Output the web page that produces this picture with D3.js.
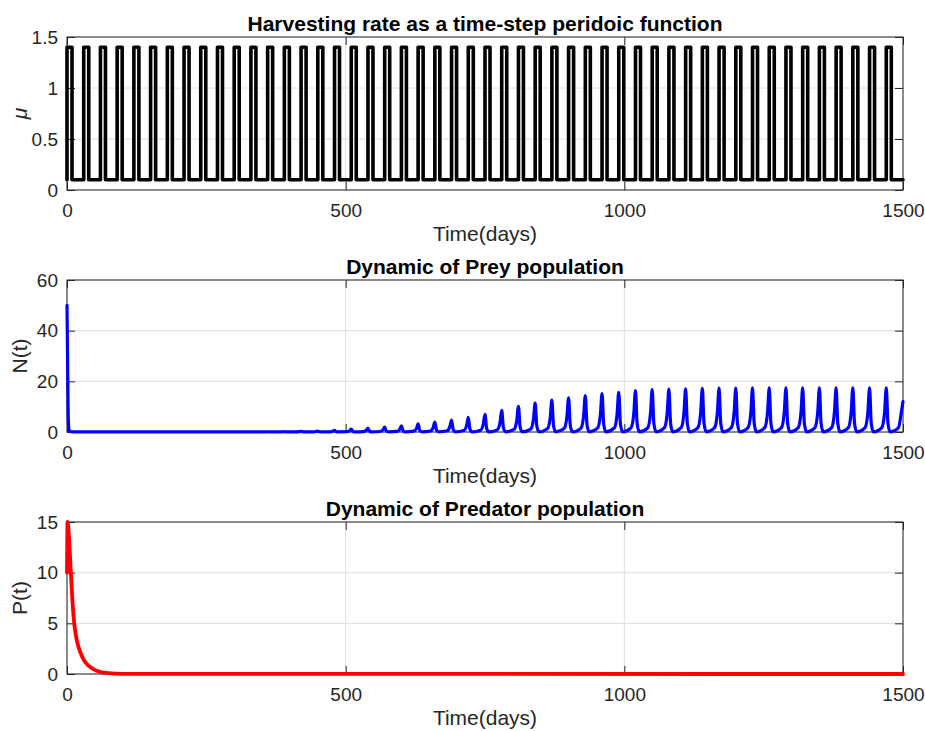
<!DOCTYPE html>
<html>
<head>
<meta charset="utf-8">
<script src="https://cdn.jsdelivr.net/npm/d3@7"></script>
<style>
  body { margin: 0; background: #fff; }
  svg { font-family: "Liberation Sans", Arial, Helvetica, sans-serif; }
</style>
</head>
<body>
<svg id="chart" width="925" height="731"></svg>
<script>
// harvesting rate: days where mu switches to the high level, and back to the low level
const harvestOn = [0, 30, 60, 90, 120, 150, 180, 210, 240, 270, 300, 330, 360, 390, 420, 450, 480,
  510, 540, 570, 600, 630, 660, 690, 720, 750, 780, 810, 840, 870, 900, 930, 960, 990, 1020, 1050,
  1080, 1110, 1140, 1170, 1200, 1230, 1260, 1290, 1320, 1350, 1380, 1410, 1440, 1470];
const harvestOff = [9, 39, 69, 99, 129, 159, 189, 219, 249, 279, 309, 339, 369, 399, 429, 459, 489,
  519, 549, 579, 609, 639, 669, 699, 729, 759, 789, 819, 849, 879, 909, 939, 969, 999, 1029, 1059,
  1089, 1119, 1149, 1179, 1209, 1239, 1269, 1299, 1329, 1359, 1389, 1419, 1449, 1479];
const muLow = 0.1, muHigh = 1.4;

// prey N(t), [day, value]
const preyPoints = [
  [0, 50], [1, 30], [2, 9], [3, 2], [4, 0.6], [6, 0.2], [10, 0.08], [20, 0.05],
  [352, 0.05], [357, 0.07], [360, 0.1], [363, 0.06], [368, 0.05],
  [382, 0.05], [387, 0.08], [390, 0.15], [393, 0.06], [398, 0.05],
  [412, 0.05], [417, 0.12], [420, 0.25], [423, 0.07], [427, 0.05],
  [442, 0.05], [447, 0.18], [450, 0.4], [453, 0.1], [457, 0.05],
  [472, 0.07], [477, 0.32], [480, 0.7], [483, 0.14], [487, 0.05],
  [502, 0.11], [507, 0.5], [510, 1.1], [513, 0.22], [517, 0.05],
  [532, 0.15], [537, 0.68], [540, 1.5], [543, 0.3], [547, 0.05],
  [562, 0.19], [567, 0.86], [570, 1.9], [573, 0.38], [577, 0.05],
  [592, 0.24], [597, 1.08], [600, 2.4], [603, 0.48], [607, 0.05],
  [622, 0.32], [627, 1.44], [630, 3.2], [633, 0.64], [637, 0.05],
  [652, 0.39], [657, 1.76], [660, 3.9], [663, 0.78], [667, 0.05],
  [682, 0.47], [687, 2.12], [690, 4.7], [693, 0.94], [697, 0.05],
  [712, 0.58], [717, 2.61], [720, 5.8], [723, 1.16], [727, 0.05],
  [742, 0.7], [747, 3.15], [750, 7.0], [753, 1.4], [757, 0.05],
  [772, 0.85], [777, 3.83], [780, 8.5], [783, 1.7], [787, 0.05],
  [802, 1.01], [807, 4.55], [810, 10.1], [813, 2.02], [817, 0.05],
  [832, 1.14], [837, 5.13], [840, 11.4], [843, 2.28], [847, 0.05],
  [862, 1.26], [867, 5.67], [870, 12.6], [873, 2.52], [877, 0.05],
  [892, 1.35], [897, 6.08], [900, 13.5], [903, 2.7], [907, 0.05],
  [922, 1.44], [927, 6.48], [930, 14.4], [933, 2.88], [937, 0.05],
  [952, 1.52], [957, 6.84], [960, 15.2], [963, 3.04], [967, 0.05],
  [982, 1.57], [987, 7.07], [990, 15.7], [993, 3.14], [997, 0.05],
  [1012, 1.63], [1017, 7.34], [1020, 16.3], [1023, 3.26], [1027, 0.05],
  [1042, 1.67], [1047, 7.52], [1050, 16.7], [1053, 3.34], [1057, 0.05],
  [1072, 1.69], [1077, 7.61], [1080, 16.9], [1083, 3.38], [1087, 0.05],
  [1102, 1.7], [1107, 7.65], [1110, 17.0], [1113, 3.4], [1117, 0.05],
  [1132, 1.72], [1137, 7.74], [1140, 17.2], [1143, 3.44], [1147, 0.05],
  [1162, 1.73], [1167, 7.79], [1170, 17.3], [1173, 3.46], [1177, 0.05],
  [1192, 1.73], [1197, 7.79], [1200, 17.3], [1203, 3.46], [1207, 0.05],
  [1222, 1.74], [1227, 7.83], [1230, 17.4], [1233, 3.48], [1237, 0.05],
  [1252, 1.74], [1257, 7.83], [1260, 17.4], [1263, 3.48], [1267, 0.05],
  [1282, 1.74], [1287, 7.83], [1290, 17.4], [1293, 3.48], [1297, 0.05],
  [1312, 1.74], [1317, 7.83], [1320, 17.4], [1323, 3.48], [1327, 0.05],
  [1342, 1.74], [1347, 7.83], [1350, 17.4], [1353, 3.48], [1357, 0.05],
  [1372, 1.74], [1377, 7.83], [1380, 17.4], [1383, 3.48], [1387, 0.05],
  [1402, 1.74], [1407, 7.83], [1410, 17.4], [1413, 3.48], [1417, 0.05],
  [1432, 1.74], [1437, 7.83], [1440, 17.4], [1443, 3.48], [1447, 0.05],
  [1462, 1.74], [1467, 7.83], [1470, 17.4], [1473, 3.48], [1477, 0.05],
  [1492, 1.74], [1497, 7.83], [1500, 12.0]
];

// predator P(t)
const predatorPoints = [
  [0, 10], [1, 15], [3, 14], [5, 12], [7, 10], [10, 7], [13, 5], [17, 3.5], [21, 2.6],
  [25, 2.0], [30, 1.4], [38, 0.85], [48, 0.45], [60, 0.2], [75, 0.08], [100, 0.02],
  [150, 0.005], [1500, 0]
];

const xTicks = [0, 500, 1000, 1500];
const muTicks = [0, 0.5, 1, 1.5];
const preyTicks = [0, 20, 40, 60];
const predTicks = [0, 5, 10, 15];

// step series for the harvesting rate
const harvestPoints = [[0, muLow]];
harvestOn.forEach((d, i) => {
  harvestPoints.push([d, muHigh]);
  harvestPoints.push([harvestOff[i], muLow]);
});
harvestPoints.push([1500, muLow]);

const svg = d3.select('#chart');
const left = 67, right = 903;
const axisColor = '#262626';

const x = d3.scaleLinear().domain([0, 1500]).range([left, right]);

const panels = [
  { top: 37, bottom: 190, yMax: 1.5, ticks: muTicks, data: harvestPoints, color: '#000000', width: 3.6,
    curve: d3.curveStepAfter, title: 'Harvesting rate as a time-step peridoic function', ylabel: 'μ', italic: true },
  { top: 280, bottom: 432, yMax: 60, ticks: preyTicks, data: preyPoints, color: '#0000ff', width: 3.2,
    curve: d3.curveMonotoneX, title: 'Dynamic of Prey population', ylabel: 'N(t)' },
  { top: 522, bottom: 674, yMax: 15, ticks: predTicks, data: predatorPoints, color: '#ff0000', width: 3.8,
    curve: d3.curveMonotoneX, title: 'Dynamic of Predator population', ylabel: 'P(t)' }
];

panels.forEach(p => {
  const y = d3.scaleLinear().domain([0, p.yMax]).range([p.bottom, p.top]);
  const g = svg.append('g');

  // grid
  g.append('g').selectAll('line.gx')
    .data(xTicks).enter().append('line')
    .attr('x1', d => x(d)).attr('x2', d => x(d))
    .attr('y1', p.top).attr('y2', p.bottom)
    .attr('stroke', '#dedede').attr('stroke-width', 1);
  g.append('g').selectAll('line.gy')
    .data(p.ticks).enter().append('line')
    .attr('x1', left).attr('x2', right)
    .attr('y1', d => y(d)).attr('y2', d => y(d))
    .attr('stroke', '#dedede').attr('stroke-width', 1);

  // axes (ticks point inward)
  const fmt = d => String(d);
  const bottomAx = g.append('g')
    .attr('transform', 'translate(0,' + p.bottom + ')')
    .call(d3.axisBottom(x).tickValues(xTicks).tickSize(-8).tickPadding(14).tickFormat(fmt));
  const topAx = g.append('g')
    .attr('transform', 'translate(0,' + p.top + ')')
    .call(d3.axisTop(x).tickValues(xTicks).tickSize(-8).tickFormat(''));
  const leftAx = g.append('g')
    .attr('transform', 'translate(' + left + ',0)')
    .call(d3.axisLeft(y).tickValues(p.ticks).tickSize(-8).tickPadding(9).tickFormat(fmt));
  const rightAx = g.append('g')
    .attr('transform', 'translate(' + right + ',0)')
    .call(d3.axisRight(y).tickValues(p.ticks).tickSize(-8).tickFormat(''));

  [bottomAx, topAx, leftAx, rightAx].forEach(a => {
    a.select('.domain').remove();
    a.selectAll('line').attr('stroke', axisColor);
    a.selectAll('text').attr('fill', axisColor).style('font-size', '19px');
  });

  g.append('rect')
    .attr('x', left).attr('y', p.top)
    .attr('width', right - left).attr('height', p.bottom - p.top)
    .attr('fill', 'none').attr('stroke', axisColor).attr('stroke-width', 1);

  // data line
  const line = d3.line()
    .x(d => x(d[0]))
    .y(d => y(d[1]))
    .curve(p.curve);
  g.append('path')
    .datum(p.data)
    .attr('d', line)
    .attr('fill', 'none')
    .attr('stroke', p.color)
    .attr('stroke-width', p.width)
    .attr('stroke-linejoin', 'round')
    .attr('stroke-linecap', 'round');

  // title and labels
  g.append('text')
    .attr('x', (left + right) / 2).attr('y', p.top - 6)
    .attr('text-anchor', 'middle')
    .style('font-size', '21px').style('font-weight', 'bold')
    .attr('fill', '#000')
    .text(p.title);
  g.append('text')
    .attr('x', (left + right) / 2).attr('y', p.bottom + 51)
    .attr('text-anchor', 'middle')
    .style('font-size', '21px')
    .attr('fill', axisColor)
    .text('Time(days)');
  g.append('text')
    .attr('transform', 'translate(27,' + (p.top + p.bottom) / 2 + ') rotate(-90)')
    .attr('text-anchor', 'middle')
    .style('font-size', '21px')
    .style('font-style', p.italic ? 'italic' : 'normal')
    .attr('fill', axisColor)
    .text(p.ylabel);
});
</script>
</body>
</html>
